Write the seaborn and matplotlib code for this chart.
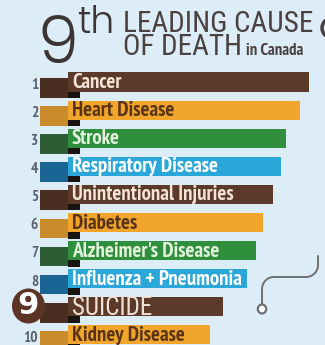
import numpy as np
import matplotlib
matplotlib.use("Agg")
import matplotlib.pyplot as plt
from matplotlib.patches import Circle
from matplotlib import font_manager as fm
import seaborn as sns

# Leading causes of death in Canada, ranked
ranks = ["1", "2", "3", "4", "5", "6", "7", "8", "9", "10"]
causes = ["Cancer", "Heart Disease", "Stroke", "Respiratory Disease",
          "Unintentional Injuries", "Diabetes", "Alzheimer's Disease",
          "Influenza + Pneumonia", "SUICIDE", "Kidney Disease"]
values = [241, 232, 218, 213, 205, 195, 188, 179, 155, 142]

BG = "#dcedf7"
BROWN, ORANGE, GREEN, BLUE = "#5b3a29", "#f2a52b", "#2f8f3c", "#2aa7d8"
bar_colors = [BROWN, ORANGE, GREEN, BLUE, BROWN, ORANGE, GREEN, BLUE, BROWN, ORANGE]
stub_map = {BROWN: "#4a2e21", ORANGE: "#c98b2c", GREEN: "#2d5d34", BLUE: "#1b6595"}
text_map = {BROWN: "#f4e3d6", ORANGE: "#5a3418", GREEN: "#e2f2dc", BLUE: "#ffffff"}

_fonts = {}
for f in fm.fontManager.ttflist:
    _fonts.setdefault(f.name, set()).add(f.weight)


def pick(*cands, weight=None):
    for c in cands:
        if c in _fonts and (weight is None or weight in _fonts[c]):
            return c
    return "DejaVu Sans"


NARROW_BOLD = pick("PT Sans Narrow", "Archivo Narrow", "Roboto Condensed",
                   "Asap Condensed", "Encode Sans Condensed", "Barlow Condensed",
                   "Fira Sans Condensed", "IBM Plex Sans Condensed", weight=700)
GOTHIC = pick("Roboto Condensed", "Archivo Narrow", "PT Sans Narrow",
              "Barlow Condensed", "Liberation Sans Narrow")
GEO = pick("Poppins", "Lato", "Open Sans", weight=300)

sns.set_theme(style="white")
plt.rcParams["font.family"] = [NARROW_BOLD, "DejaVu Sans"]

W, H = 325, 345
fig = plt.figure(figsize=(W / 100, H / 100), dpi=100, facecolor=BG)
ax = fig.add_axes([0, 0, 1, 1])
ax.set_facecolor(BG)

sns.barplot(x=values, y=causes, hue=causes, palette=bar_colors, orient="h",
            width=0.68, legend=False, ax=ax, zorder=3, linewidth=0,
            saturation=1)

# darker tabs behind each bar with a small drop shadow
n = len(causes)
ypos = np.arange(n)
ax.barh(ypos + 0.21, 40, left=-28, height=0.7,
        color=[stub_map[c] for c in bar_colors], zorder=1, linewidth=0)
ax.barh(ypos + 0.42, 12, left=0, height=0.3, color="#1a1410", zorder=2, linewidth=0)

# label inside each bar
for i, (cause, c) in enumerate(zip(causes, bar_colors)):
    if cause == "SUICIDE":
        ax.text(4, i + 0.03, cause, va="center", ha="left", color="#f2e1d8",
                fontsize=18, fontweight="normal", family=[GOTHIC, "DejaVu Sans"],
                zorder=4)
    else:
        ax.text(4, i + 0.02, cause, va="center", ha="left", color=text_map[c],
                fontsize=15, fontweight="bold", zorder=4)

# rank numbers
for i, r in enumerate(ranks):
    if r == "9":
        continue
    ax.text(-30, i + 0.1, r, va="center", ha="right", color="#56606a",
            fontsize=11, fontweight="bold", zorder=4)

ax.set_xlim(-68, W - 68)
step = 28.1
ax.set_ylim((H - 82) / step, -82 / step)
ax.axis("off")


def px(x, y):
    return x / W, 1 - y / H


# rank 9 badge
fig.patches.append(
    Circle(px(28.5, 306), 16.5 / W, transform=fig.transFigure,
           facecolor="#5b3426", edgecolor="none", zorder=5))
fig.text(*px(28.5, 306), "9", ha="center", va="center", color="white",
         fontsize=22, fontweight="bold", family=["DejaVu Sans"], zorder=6)

# connector line with a small ring at its end
r = 12
xs, ys = [262, 262], [304, 277 + r]
t = np.linspace(np.pi, 1.5 * np.pi, 20)
xs += list(262 + r + r * np.cos(t)); ys += list(277 + r + r * np.sin(t))
xs += [306]; ys += [277]
t = np.linspace(0.5 * np.pi, 0, 20)
xs += list(306 + r * np.cos(t)); ys += list(265 + r * np.sin(t))
xs += [318]; ys += [256]
fx, fy = zip(*[px(a, b) for a, b in zip(xs, ys)])
fig.add_artist(plt.Line2D(fx, fy, transform=fig.transFigure, color="#6f6f72",
                          lw=1.4, zorder=2))
fig.patches.append(
    Circle(px(262, 309), 4.2 / W, transform=fig.transFigure,
           facecolor="white", edgecolor="#6f6f72", lw=1.6, zorder=3))
fig.patches.append(
    Circle(px(331, 28), 9 / W, transform=fig.transFigure,
           facecolor="none", edgecolor="#4a3f3c", lw=2.5, zorder=3))

# heading
TITLE = "#4b4141"
fig.text(*px(38, 63), "9", ha="left", va="baseline", color="#3d3434",
         fontsize=47, fontweight=300, family=[GEO, "DejaVu Sans"])
fig.text(*px(77, 33), "th", ha="left", va="baseline", color="#3d3434",
         fontsize=27, fontweight=300, family=[GEO, "DejaVu Sans"])
fig.text(*px(123, 32), "LEADING CAUSE", ha="left", va="baseline", color=TITLE,
         fontsize=21, family=[GOTHIC, "DejaVu Sans"])
of_death = fig.text(*px(123, 55), "OF DEATH", ha="left", va="baseline",
                    color=TITLE, fontsize=21, family=[GOTHIC, "DejaVu Sans"])
fig.canvas.draw()
right = of_death.get_window_extent().x1
fig.text((right + 4) / W, 1 - 55 / H, "in Canada", ha="left", va="baseline",
         color=TITLE, fontsize=12, fontweight="bold",
         family=[NARROW_BOLD, "DejaVu Sans"])

fig.savefig("out.png", dpi=100, facecolor=BG)
